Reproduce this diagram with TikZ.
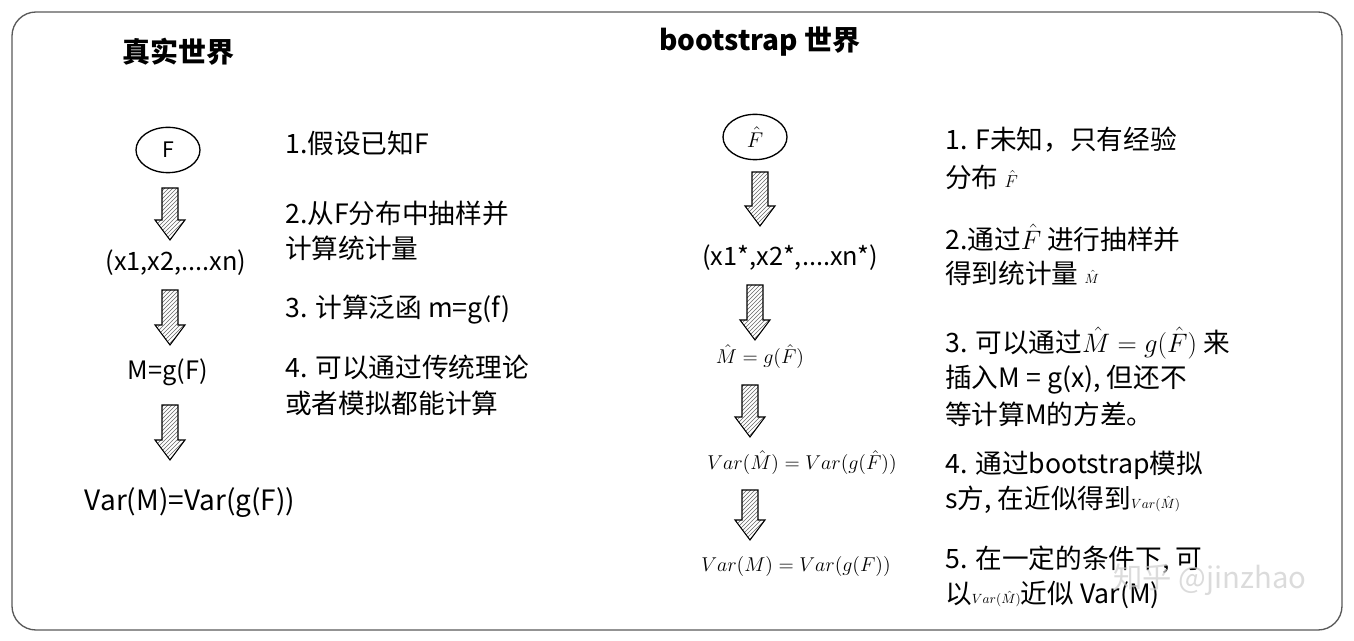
\RequirePackage{fix-cm}
\documentclass[tikz,border=0pt]{standalone}
\usepackage{fontspec}
\setmainfont{Noto Sans CJK SC}
\usetikzlibrary{patterns,shapes.geometric}
\tikzset{
  lbl/.style={anchor=west,font=\fontsize{20}{24}\selectfont,inner sep=0pt},
  ttl/.style={font=\fontsize{21}{24}\selectfont\bfseries,inner sep=0pt},
  mth/.style={font=\fontsize{15}{18}\selectfont,inner sep=1pt},
  elt/.style={draw,ellipse,line width=1pt,minimum width=48pt,minimum height=34pt,font=\fontsize{16}{18}\selectfont},
}
\newcommand{\hatcharrow}[3]{% x, ytop, ybottom in px
  \draw[line width=0.8pt,pattern=north east lines,pattern color=gray!80!black]
   ({#1-8},{#2}) -- ({#1+8},{#2}) -- ({#1+8},{#3-20}) -- ({#1+15},{#3-20}) -- ({#1},{#3})
   -- ({#1-15},{#3-20}) -- ({#1-8},{#3-20}) -- cycle;}
\begin{document}
\begin{tikzpicture}[x=0.75pt,y=-0.75pt]
\useasboundingbox (0,0) rectangle (1354,641);
\draw[line width=1pt,rounded corners=18pt,gray!70!black] (12,12) rectangle (1342,630);
% left
\node[ttl] (t1) at (178,52) {真实世界};
\node[elt] (F) at (168,150) {F};
\hatcharrow{170}{188}{240}
\node[mth] (x) at (176,263) {\fontsize{19}{22}\selectfont(x1,x2,....xn)};
\hatcharrow{170}{290}{345}
\node[mth] (M) at (168,372) {\fontsize{19}{22}\selectfont M=g(F)};
\hatcharrow{170}{405}{460}
\node[mth] (V) at (190,503) {\fontsize{21}{24}\selectfont Var(M)=Var(g(F))};
\node[lbl] at (285,143) {1.假设已知F};
\node[lbl] at (285,213) {2.从F分布中抽样并};
\node[lbl] at (285,248) {计算统计量};
\node[lbl] at (285,310) {3. 计算泛函 m=g(f)};
\node[lbl] at (285,367) {4. 可以通过传统理论};
\node[lbl] at (285,403) {或者模拟都能计算};
% right
\node[ttl] (t2) at (760,42) {bootstrap 世界};
\node[elt] (Fh) at (755,137) {$\hat F$};
\hatcharrow{760}{172}{226}
\node[mth] (xs) at (790,258) {\fontsize{19}{22}\selectfont(x1*,x2*,....xn*)};
\hatcharrow{755}{285}{340}
\node[mth] (Mh) at (760,357) {$\hat M = g(\hat F)$};
\hatcharrow{750}{385}{437}
\node[mth] (Vh) at (802,463) {$Var(\hat M) = Var(g(\hat F))$};
\hatcharrow{750}{490}{540}
\node[mth] (VM) at (796,566) {$Var(M) = Var(g(F))$};
\node[lbl] at (945,140) {1. F未知，只有经验};
\node[lbl] at (945,177) {分布 {\fontsize{13}{15}\selectfont$\hat F$}};
\node[lbl] at (945,238) {2.通过$\hat F$ 进行抽样并};
\node[lbl] at (945,273) {得到统计量 {\fontsize{10}{12}\selectfont$\hat M$}};
\node[lbl] at (945,343) {3. 可以通过$\hat M = g(\hat F)$ 来};
\node[lbl] at (945,380) {插入M = g(x), 但还不};
\node[lbl] at (945,414) {等计算M的方差。};
\node[lbl] at (945,465) {4. 通过bootstrap模拟};
\node[lbl] at (945,500) {s方, 在近似得到{\fontsize{10}{12}\selectfont$Var(\hat M)$}};
\node[lbl] at (945,560) {5. 在一定的条件下, 可};
\node[lbl] at (945,595) {以{\fontsize{10}{12}\selectfont$Var(\hat M)$}近似 Var(M)};
\node[font=\fontsize{22}{24}\selectfont,text=gray!40,opacity=0.7] at (1210,580) {知乎 @jinzhao};
\end{tikzpicture}
\end{document}
